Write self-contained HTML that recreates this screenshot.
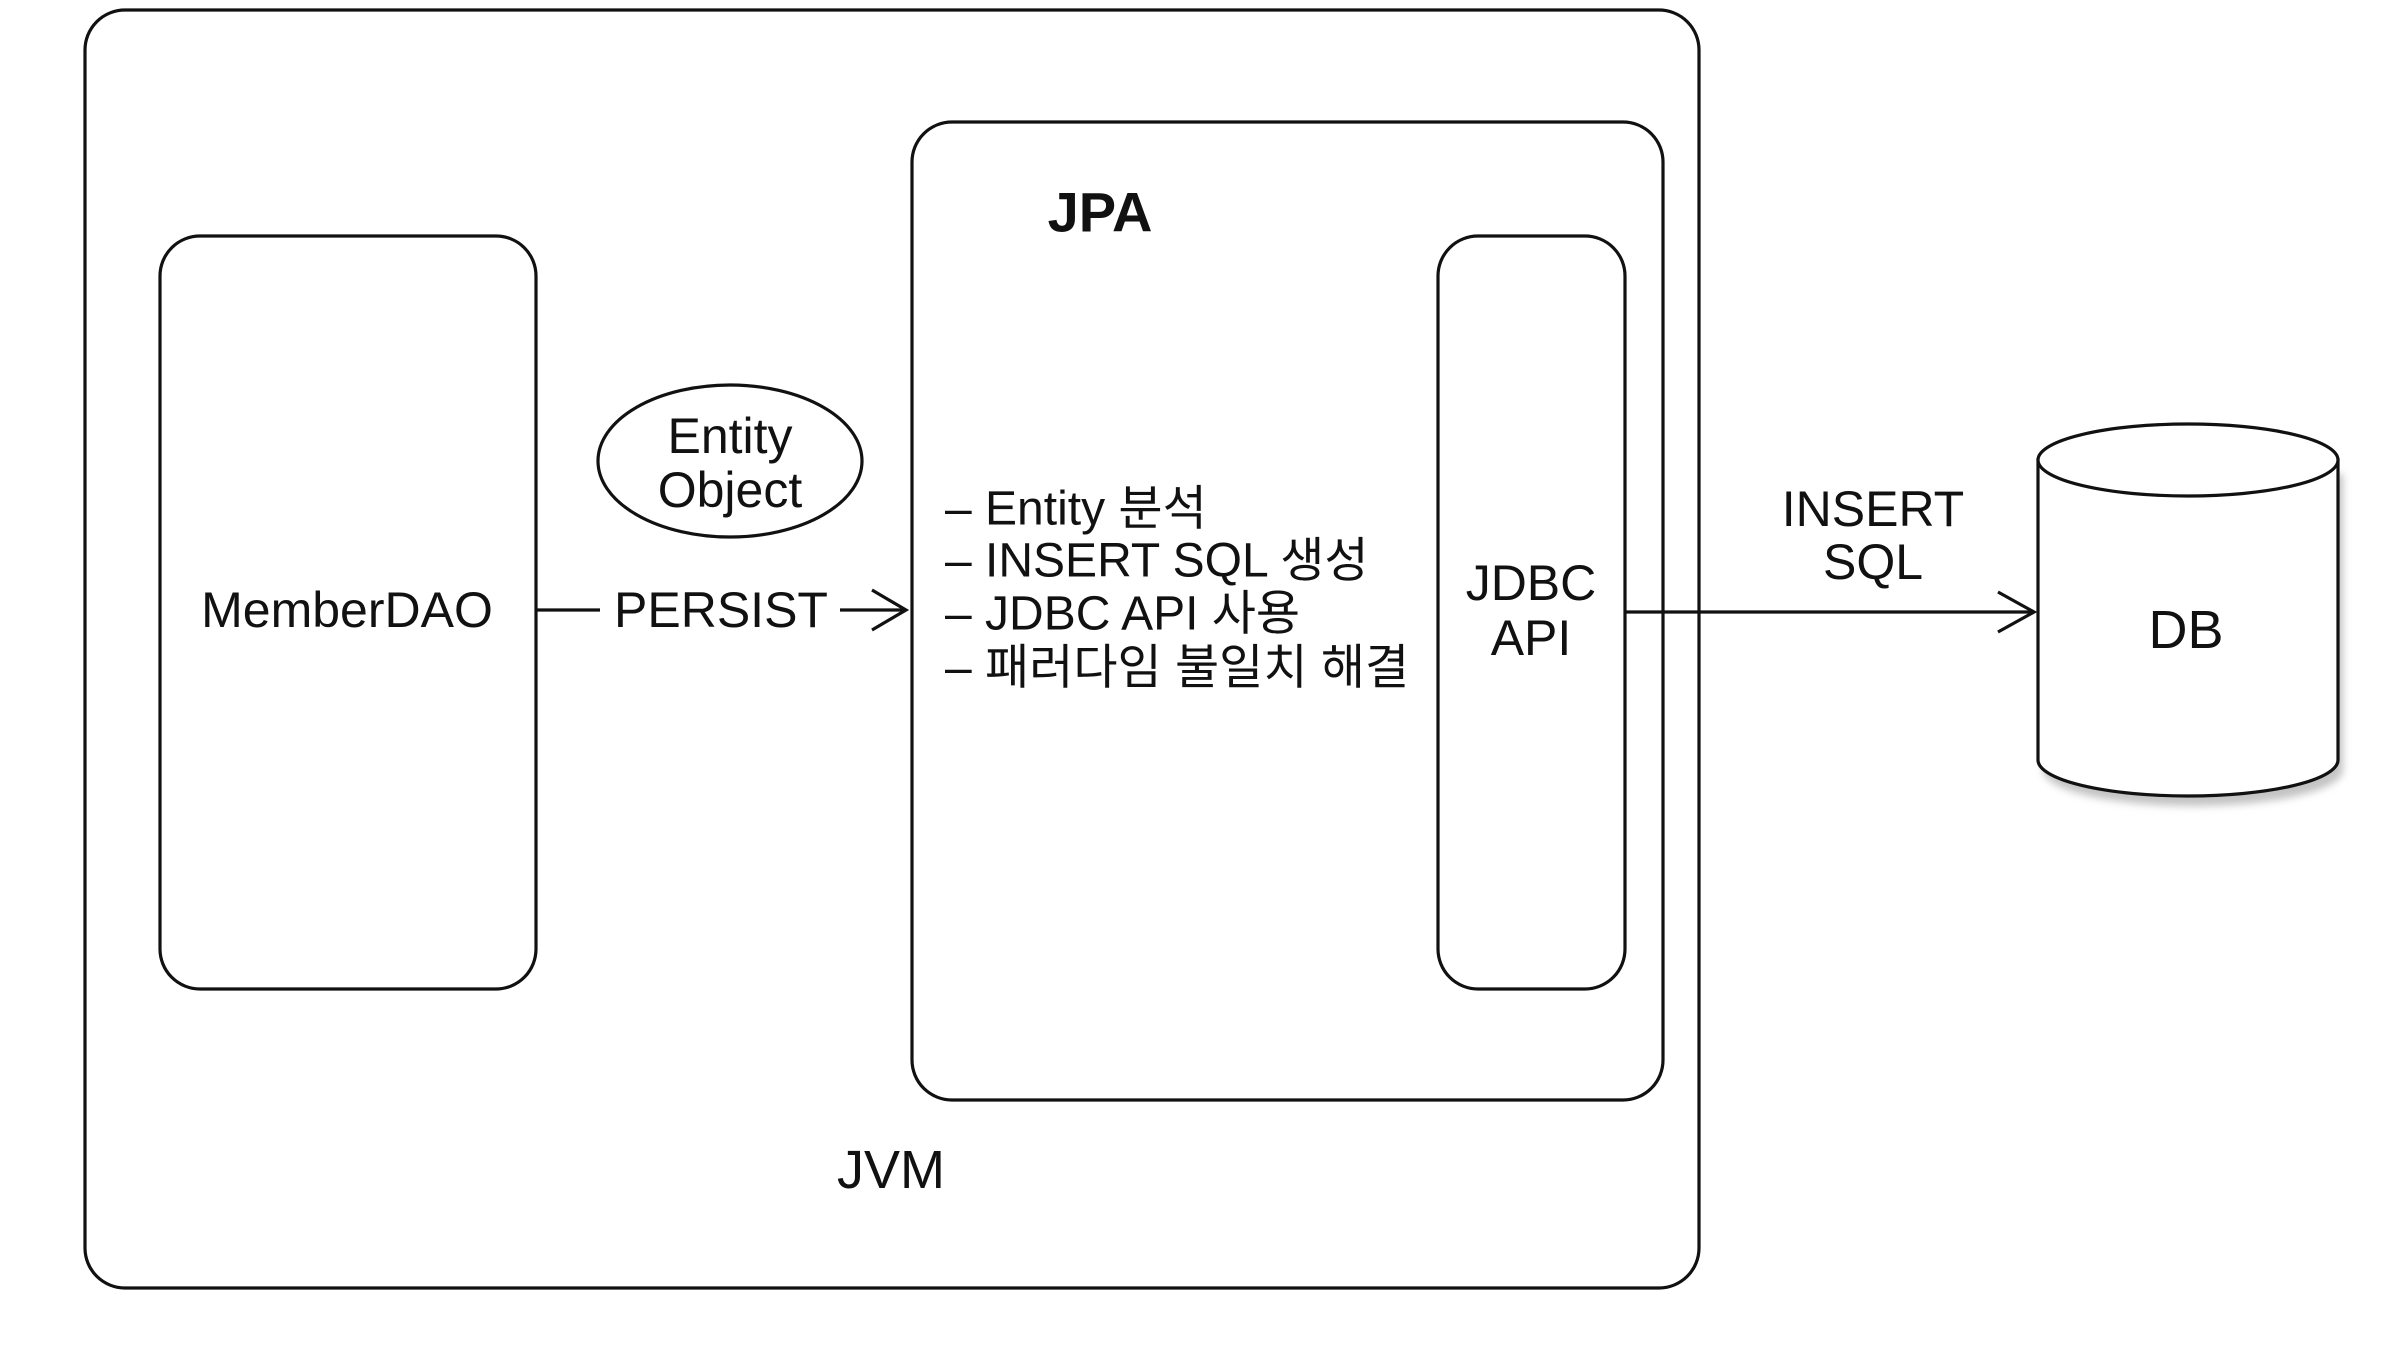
<!DOCTYPE html>
<html><head><meta charset="utf-8"><style>
html,body{margin:0;padding:0;background:#fff;}
svg text{font-family:"Liberation Sans","Noto Sans CJK KR",sans-serif;fill:#111;}
</style></head><body>
<svg width="2402" height="1342" viewBox="0 0 2402 1342" xmlns="http://www.w3.org/2000/svg">
<defs>
<filter id="sh" x="-10%" y="-10%" width="130%" height="130%"><feGaussianBlur stdDeviation="4"/></filter>
</defs>
<g fill="none" stroke="#111" stroke-width="3.2">
<rect x="85" y="10" width="1614" height="1278" rx="40"/>
<rect x="160" y="236" width="376" height="753" rx="40"/>
<rect x="912" y="122" width="751" height="978" rx="40"/>
<rect x="1438" y="236" width="187" height="753" rx="40"/>
<ellipse cx="730" cy="461" rx="132" ry="76"/>
<line x1="536" y1="610" x2="600" y2="610"/>
<line x1="840" y1="610" x2="906" y2="610"/>
<polyline points="872,590 906,610 872,630"/>
<line x1="1625" y1="612" x2="2034" y2="612"/>
<polyline points="1998,592 2034,612 1998,632"/>
</g>
<path d="M2040,466 V762 A150,36 0 0 0 2340,762 V466" fill="#888" opacity="0.5" filter="url(#sh)" transform="translate(3,8)"/>
<path d="M2038,460 V760 A150,36 0 0 0 2338,760 V460 Z" fill="#fff" stroke="#111" stroke-width="3.2"/>
<ellipse cx="2188" cy="460" rx="150" ry="36" fill="#fff" stroke="#111" stroke-width="3.2"/>
<g font-size="50" text-anchor="middle" dominant-baseline="central">
<text x="730" y="436">Entity</text>
<text x="730" y="490">Object</text>
<text x="347" y="610">MemberDAO</text>
<text x="721" y="610">PERSIST</text>
<text x="1100" y="212" font-weight="bold" font-size="56">JPA</text>
<text x="1531" y="583">JDBC</text>
<text x="1531" y="638">API</text>
<text x="1873" y="509">INSERT</text>
<text x="1873" y="562">SQL</text>
<text x="2186" y="630" font-size="54">DB</text>
<text x="891" y="1170" font-size="54">JVM</text>
</g>
<g font-size="48" dominant-baseline="central">
<text x="945" y="509">– Entity 분석</text>
<text x="945" y="561">– INSERT SQL 생성</text>
<text x="945" y="614">– JDBC API 사용</text>
<text x="945" y="668">– 패러다임 불일치 해결</text>
</g>
</svg>
</body></html>
